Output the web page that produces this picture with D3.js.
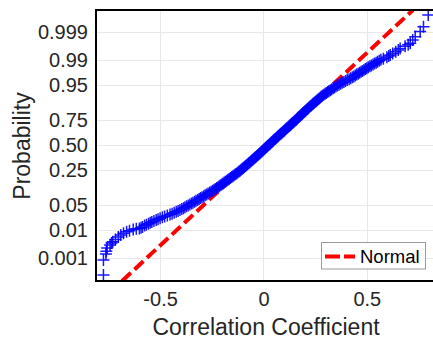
<!DOCTYPE html>
<html>
<head>
<meta charset="utf-8">
<script src="https://cdn.jsdelivr.net/npm/d3@7"></script>
<style>
  body { margin: 0; background: #fff; }
  text { font-family: "Liberation Sans", Arial, Helvetica, sans-serif; fill: #262626; }
</style>
</head>
<body>
<svg id="chart" width="433" height="341"></svg>
<script>
// normal scores (probit of plotting position) and sorted correlation coefficients
const normalScore = [
  -3.55, -3.14, -2.98, -2.90, -2.81, -2.73, -2.68, -2.64, -2.58, -2.51, -2.46, -2.41,
  -2.37, -2.34, -2.31, -2.29, -2.28, -2.26, -2.24,
  -2.20, -2.15, -2.10, -2.05, -2.00, -1.95, -1.90, -1.85, -1.80, -1.75, -1.70, -1.65,
  -1.60, -1.55, -1.50, -1.45, -1.40, -1.35, -1.30, -1.25, -1.20, -1.15, -1.10, -1.05,
  -1.00, -0.95, -0.90, -0.85, -0.80, -0.75, -0.70, -0.65, -0.60, -0.55, -0.50, -0.45,
  -0.40, -0.35, -0.30, -0.25, -0.20, -0.15, -0.10, -0.05, 0.00, 0.05, 0.10, 0.15,
  0.20, 0.25, 0.30, 0.35, 0.40, 0.45, 0.50, 0.55, 0.60, 0.65, 0.70, 0.75, 0.80, 0.85,
  0.90, 0.95, 1.00, 1.05, 1.10, 1.15, 1.20, 1.25, 1.30, 1.35, 1.40, 1.45, 1.50, 1.55,
  1.60, 1.65, 1.70, 1.75, 1.80, 1.85, 1.90, 1.95, 2.00, 2.05, 2.10, 2.15, 2.20, 2.25,
  2.30, 2.33, 2.36, 2.40, 2.43, 2.46, 2.50, 2.55, 2.60, 2.64, 2.70, 2.74, 2.78, 2.87,
  2.96, 3.10, 3.23, 3.55,
  -2.175, -2.125, -2.075, -2.025, -1.975, -1.925, -1.875, -1.825, -1.775, -1.725, -1.675, -1.625,
  -1.575, -1.525, -1.475, -1.425, -1.375, -1.325, -1.275, -1.225, -1.175, -1.125, -1.075, -1.025,
  -0.975, -0.925, -0.875, -0.825, -0.775, -0.725, -0.675, -0.625, -0.575, -0.525, -0.475, -0.425,
  -0.375, -0.325, -0.275, -0.225, -0.175, -0.125, -0.075, -0.025, 0.025, 0.075, 0.125, 0.175,
  0.225, 0.275, 0.325, 0.375, 0.425, 0.475, 0.525, 0.575, 0.625, 0.675, 0.725, 0.775,
  0.825, 0.875, 0.925, 0.975, 1.025, 1.075, 1.125, 1.175, 1.225, 1.275, 1.325, 1.375,
  1.425, 1.475, 1.525, 1.575, 1.625, 1.675, 1.725, 1.775, 1.825, 1.875, 1.925, 1.975,
  2.025, 2.075, 2.125, 2.175, 2.225, 2.275
];
const corrCoef = [
  -0.774, -0.774, -0.762, -0.760, -0.756, -0.742, -0.735, -0.729, -0.716, -0.702, -0.690, -0.677,
  -0.662, -0.648, -0.630, -0.615, -0.600, -0.592, -0.585,
  -0.575, -0.556, -0.540, -0.519, -0.500, -0.478, -0.452, -0.432, -0.413, -0.395, -0.380, -0.364,
  -0.348, -0.333, -0.318, -0.304, -0.289, -0.275, -0.260, -0.246, -0.232, -0.220, -0.208, -0.196,
  -0.184, -0.172, -0.160, -0.148, -0.136, -0.124, -0.113, -0.102, -0.092, -0.082, -0.072, -0.062,
  -0.052, -0.042, -0.032, -0.022, -0.012, -0.003, 0.006, 0.016, 0.025, 0.034, 0.044, 0.053,
  0.063, 0.072, 0.082, 0.092, 0.102, 0.111, 0.121, 0.131, 0.140, 0.150, 0.160, 0.169, 0.178, 0.187,
  0.196, 0.206, 0.216, 0.225, 0.235, 0.245, 0.255, 0.265, 0.275, 0.285, 0.298, 0.311, 0.324, 0.337,
  0.350, 0.365, 0.381, 0.397, 0.414, 0.430, 0.444, 0.458, 0.472, 0.486, 0.500, 0.515, 0.530, 0.545,
  0.560, 0.568, 0.580, 0.597, 0.606, 0.613, 0.625, 0.640, 0.652, 0.661, 0.685, 0.700, 0.710, 0.722,
  0.734, 0.758, 0.774, 0.797,
  -0.566, -0.548, -0.530, -0.510, -0.489, -0.465, -0.442, -0.422, -0.404, -0.387, -0.372, -0.356,
  -0.341, -0.326, -0.311, -0.297, -0.282, -0.268, -0.253, -0.239, -0.226, -0.214, -0.202, -0.190,
  -0.178, -0.166, -0.154, -0.142, -0.130, -0.118, -0.108, -0.097, -0.087, -0.077, -0.067, -0.057,
  -0.047, -0.037, -0.027, -0.017, -0.008, 0.002, 0.011, 0.020, 0.030, 0.039, 0.048, 0.058,
  0.068, 0.077, 0.087, 0.097, 0.106, 0.116, 0.126, 0.135, 0.145, 0.155, 0.164, 0.173,
  0.182, 0.191, 0.201, 0.211, 0.220, 0.230, 0.240, 0.250, 0.260, 0.270, 0.280, 0.291,
  0.304, 0.317, 0.330, 0.343, 0.357, 0.373, 0.389, 0.405, 0.422, 0.437, 0.451, 0.465,
  0.479, 0.493, 0.507, 0.522, 0.537, 0.552
];

// fitted normal line
const fitMean = 0.022;
const fitStd = 0.19;

const xTicks = [-0.5, 0, 0.5];
const xTickLabels = ['-0.5', '0', '0.5'];
const yTickProbs = [0.001, 0.01, 0.05, 0.25, 0.5, 0.75, 0.95, 0.99, 0.999];
const yTickLabels = ['0.001', '0.01', '0.05', '0.25', '0.50', '0.75', '0.95', '0.99', '0.999'];

// inverse normal cdf (Acklam)
function probit(p) {
  const a = [-3.969683028665376e+01, 2.209460984245205e+02, -2.759285104469687e+02, 1.383577518672690e+02, -3.066479806614716e+01, 2.506628277459239e+00];
  const b = [-5.447609879822406e+01, 1.615858368580409e+02, -1.556989798598866e+02, 6.680131188771972e+01, -1.328068155288572e+01];
  const c = [-7.784894002430293e-03, -3.223964580411365e-01, -2.400758277161838e+00, -2.549732539343734e+00, 4.374664141464968e+00, 2.938163982698783e+00];
  const d = [7.784695709041462e-03, 3.224671290700398e-01, 2.445134137142996e+00, 3.754408661907416e+00];
  const pl = 0.02425;
  if (p < pl) {
    const q = Math.sqrt(-2 * Math.log(p));
    return (((((c[0]*q+c[1])*q+c[2])*q+c[3])*q+c[4])*q+c[5]) / ((((d[0]*q+d[1])*q+d[2])*q+d[3])*q+1);
  }
  if (p > 1 - pl) {
    const q = Math.sqrt(-2 * Math.log(1 - p));
    return -(((((c[0]*q+c[1])*q+c[2])*q+c[3])*q+c[4])*q+c[5]) / ((((d[0]*q+d[1])*q+d[2])*q+d[3])*q+1);
  }
  const q = p - 0.5, r = q * q;
  return (((((a[0]*r+a[1])*r+a[2])*r+a[3])*r+a[4])*r+a[5])*q / (((((b[0]*r+b[1])*r+b[2])*r+b[3])*r+b[4])*r+1);
}

const plotLeft = 96, plotRight = 433, plotTop = 10, plotBottom = 281;

const svg = d3.select('#chart');

const x = d3.scaleLinear().domain([-0.81, 0.82]).range([plotLeft, plotRight]);
const y = d3.scaleLinear().domain([-3.715, 3.69]).range([plotBottom, plotTop]);

svg.append('defs').append('clipPath').attr('id', 'plotclip')
  .append('rect')
  .attr('x', plotLeft).attr('y', plotTop)
  .attr('width', plotRight - plotLeft).attr('height', plotBottom - plotTop);

// grid
const grid = svg.append('g').attr('stroke', '#e8e8e8').attr('stroke-width', 1);
grid.selectAll('line.gx')
  .data(xTicks)
  .enter()
  .append('line')
  .attr('x1', d => Math.round(x(d)) + 0.5).attr('x2', d => Math.round(x(d)) + 0.5)
  .attr('y1', plotTop).attr('y2', plotBottom);
grid.selectAll('line.gy')
  .data(yTickProbs)
  .enter()
  .append('line')
  .attr('x1', plotLeft).attr('x2', plotRight)
  .attr('y1', d => Math.round(y(probit(d))) + 0.5).attr('y2', d => Math.round(y(probit(d))) + 0.5);

const plot = svg.append('g').attr('clip-path', 'url(#plotclip)');

// normal reference line (under the markers)
const zRange = y.domain();
plot.append('line')
  .attr('x1', x(fitMean + fitStd * zRange[0])).attr('y1', y(zRange[0]))
  .attr('x2', x(fitMean + fitStd * zRange[1])).attr('y2', y(zRange[1]))
  .attr('stroke', '#ff0000')
  .attr('stroke-width', 4)
  .attr('stroke-dasharray', '12,5');

// data markers
const points = normalScore.map((z, i) => ({ z: z, r: corrCoef[i] }));
plot.append('g')
  .selectAll('path')
  .data(points)
  .enter()
  .append('path')
  .attr('transform', d => 'translate(' + x(d.r) + ',' + y(d.z) + ')')
  .attr('d', 'M-6,0H6M0,-6V6')
  .attr('fill', 'none')
  .attr('stroke', '#0000ff')
  .attr('stroke-opacity', 0.9)
  .attr('stroke-width', 1.5);

// axes
const xAxis = svg.append('g')
  .attr('transform', 'translate(0,' + plotBottom + ')')
  .call(d3.axisBottom(x).tickValues(xTicks).tickFormat((d, i) => xTickLabels[i]).tickSize(0).tickPadding(11));
xAxis.select('.domain').remove();

const yAxis = svg.append('g')
  .attr('transform', 'translate(' + plotLeft + ',0)')
  .call(d3.axisLeft(y).tickValues(yTickProbs.map(probit)).tickFormat((d, i) => yTickLabels[i]).tickSize(0).tickPadding(8));
yAxis.select('.domain').remove();

svg.selectAll('.tick text').attr('fill', null).style('font-size', '20px');
xAxis.attr('font-family', null).attr('font-size', null);
yAxis.attr('font-family', null).attr('font-size', null);

// box
svg.append('path')
  .attr('d', 'M' + plotRight + ',' + plotTop + 'H' + plotLeft + 'V' + plotBottom + 'H' + plotRight)
  .attr('fill', 'none')
  .attr('stroke', '#000')
  .attr('stroke-width', 2);

// axis labels
svg.append('text')
  .attr('x', 266).attr('y', 335)
  .attr('text-anchor', 'middle')
  .style('font-size', '23px')
  .text('Correlation Coefficient');
svg.append('text')
  .attr('transform', 'translate(30,146) rotate(-90)')
  .attr('text-anchor', 'middle')
  .style('font-size', '23px')
  .text('Probability');

// legend
const legend = svg.append('g');
legend.append('rect')
  .attr('x', 321.5).attr('y', 242.5)
  .attr('width', 104).attr('height', 26.5)
  .attr('fill', '#fff')
  .attr('stroke', '#9a9a9a')
  .attr('stroke-width', 1);
legend.append('line')
  .attr('x1', 325).attr('x2', 355)
  .attr('y1', 256.5).attr('y2', 256.5)
  .attr('stroke', '#ff0000')
  .attr('stroke-width', 4)
  .attr('stroke-dasharray', '15,4');
legend.append('text')
  .attr('x', 360).attr('y', 262.5)
  .style('font-size', '18.5px')
  .style('fill', '#000')
  .text('Normal');
</script>
</body>
</html>
